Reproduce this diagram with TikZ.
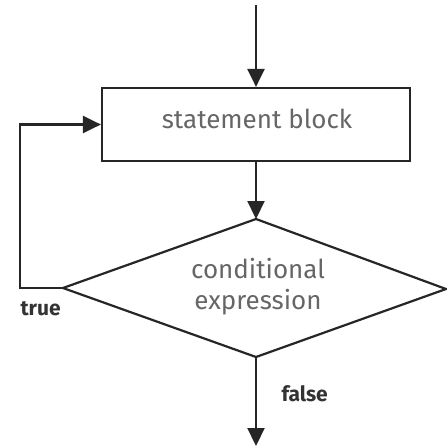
\documentclass[tikz,border=0pt]{standalone}
\usepackage{fontspec}
\setmainfont{Fira Sans}
\usetikzlibrary{arrows.meta,shapes.geometric}
\begin{document}
\begin{tikzpicture}[x=1pt,y=-1pt,
  line/.style={line width=2.2pt,draw=black!85},
  arr/.style={line,-{Triangle[length=18pt,width=17pt]}},
  lbl/.style={text=black!60,font=\fontsize{26}{31}\selectfont},
  tag/.style={text=black!80,font=\bfseries\fontsize{21}{24}\selectfont}]
\useasboundingbox (0,0) rectangle (447,448);
\coordinate (start) at (256,5);
\node[line,draw,minimum width=308pt,minimum height=73pt,inner sep=0pt] (box) at (256,124.5) {};
\node[lbl] (stmt) at (257,119) {statement block};
\coordinate (dt) at (256,219);
\coordinate (dl) at (63,288);
\coordinate (dr) at (446,289);
\coordinate (db) at (256,357);
\draw[line,line join=miter] (dt) -- (dr) -- (db) -- (dl) -- cycle;
\node[lbl,align=center] (cond) at (258,287) {conditional\\expression};
\coordinate (end) at (256,446);
\coordinate (lc1) at (20,288);
\coordinate (lc2) at (20,124.5);
\draw[arr] (start) -- (box.north);
\draw[arr] (box.south) -- (dt);
\draw[arr] (db) -- (end);
\draw[arr] (dl) -- (lc1) -- (lc2) -- (box.west);
\node[tag,anchor=west] (t) at (17,309) {true};
\node[tag,anchor=west] (f) at (278,394) {false};
\end{tikzpicture}
\end{document}
